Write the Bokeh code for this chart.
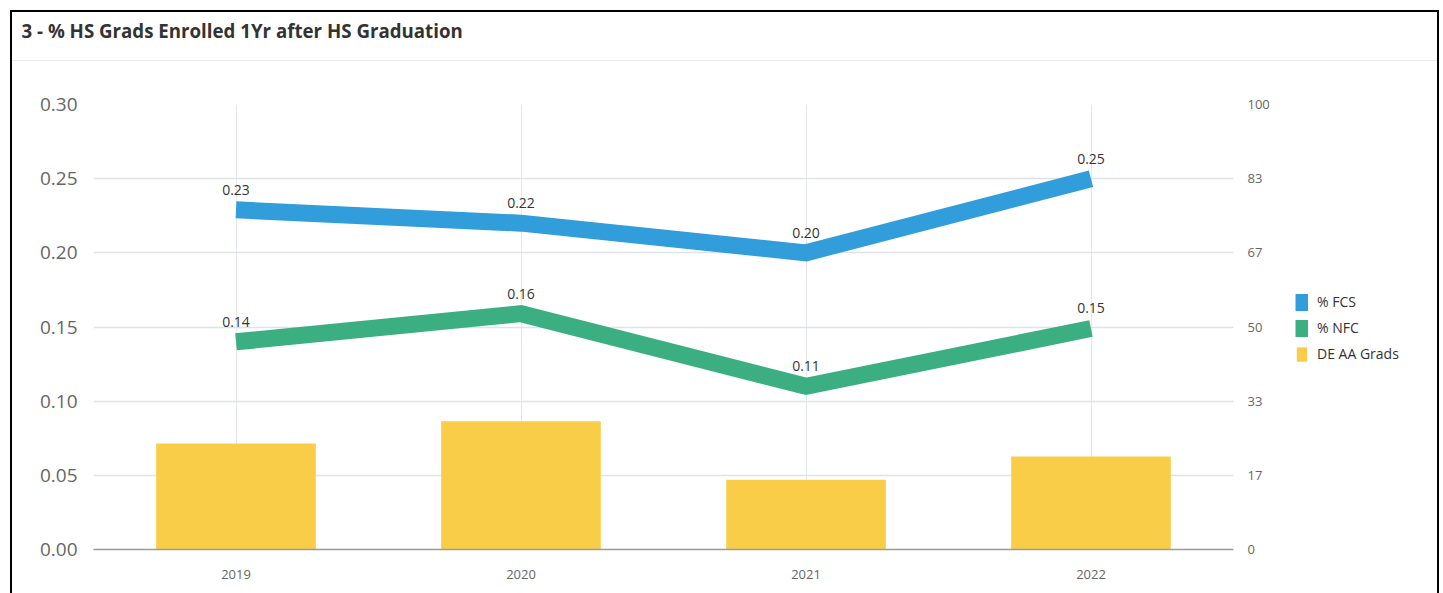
from bokeh.plotting import figure
from bokeh.layouts import row
from bokeh.models import (FactorRange, Range1d, LinearAxis, FixedTicker, Legend, LegendItem,
                          ColumnDataSource, Title, NumeralTickFormatter)
from bokeh.core.properties import value
from bokeh.embed import file_html
from bokeh.resources import INLINE

years = ["2019", "2020", "2021", "2022"]
pct_fcs = [0.229, 0.220, 0.200, 0.250]
pct_nfc = [0.140, 0.159, 0.110, 0.149]
de_aa_grads = [23.8, 28.8, 15.7, 20.9]
left_ticks = [0.0, 0.05, 0.10, 0.15, 0.20, 0.25, 0.30]
right_ticks = [0, 100 / 6, 200 / 6, 50, 400 / 6, 500 / 6, 100]
right_tick_labels = ["0", "17", "33", "50", "67", "83", "100"]
series_names = ["% FCS", "% NFC", "DE AA Grads"]
title_text = "3 - % HS Grads Enrolled 1Yr after HS Graduation"

FONT = "Open Sans"
BLUE = "#319edb"
GREEN = "#3caf82"
YELLOW = "#f9cd48"

W1, W2, H = 1273, 170, 593

bg1 = ("linear-gradient(#000,#000) 10px 10px / 2px 583px no-repeat, "
       "linear-gradient(#000,#000) 10px 10px / 1263px 2px no-repeat, "
       "linear-gradient(#ebebeb,#ebebeb) 12px 60px / 1261px 1px no-repeat, #ffffff")
bg2 = ("linear-gradient(#000,#000) 164px 10px / 2px 583px no-repeat, "
       "linear-gradient(#000,#000) 0px 10px / 166px 2px no-repeat, "
       "linear-gradient(#ebebeb,#ebebeb) 0px 60px / 164px 1px no-repeat, #ffffff")

p = figure(width=W1, height=H, frame_width=1140, frame_height=445,
           x_range=FactorRange(*years), y_range=Range1d(0, 0.30),
           output_backend="svg", toolbar_location=None, title_location=None,
           min_border_left=93, min_border_right=40, min_border_top=104, min_border_bottom=44,
           styles={"background": bg1})
p.extra_y_ranges = {"right": Range1d(0, 100)}
p.outline_line_color = None
p.background_fill_color = "white"
p.border_fill_color = None

# title (extra empty lines lift the text inside its panel)
p.add_layout(Title(text=title_text + "\n\n", text_font=FONT, text_font_size="18.7px",
                   text_font_style="bold", text_color="#333333", align="left",
                   offset=-72, vertical_align="top", standoff=19, text_line_height=1.0),
             "above")

src = ColumnDataSource(dict(x=years, fcs=pct_fcs, nfc=pct_nfc, grads=de_aa_grads,
                            fcs_lbl=[f"{v:.2f}" for v in pct_fcs],
                            nfc_lbl=[f"{v:.2f}" for v in pct_nfc]))
p.vbar(x="x", top="grads", width=0.56, source=src, y_range_name="right",
       fill_color=YELLOW, line_color=None)
p.line(x="x", y="fcs", source=src, line_color=BLUE, line_width=17, line_join="miter")
p.line(x="x", y="nfc", source=src, line_color=GREEN, line_width=17, line_join="miter")

for col in ("fcs", "nfc"):
    p.text(x="x", y=col, text=col + "_lbl", source=src, text_align="center",
           text_baseline="alphabetic", y_offset=-20, text_font=value(FONT),
           text_font_size="14px", text_color="#333333")

# axes
xax = p.xaxis[0]
xax.axis_line_color = "#9a9a9a"
xax.axis_line_width = 1.5
xax.major_tick_line_color = None
xax.minor_tick_line_color = None
xax.major_label_text_font = FONT
xax.major_label_text_font_size = "13px"
xax.major_label_text_color = "#666666"
xax.major_label_standoff = 14

yax = p.yaxis[0]
yax.ticker = FixedTicker(ticks=left_ticks)
yax.formatter = NumeralTickFormatter(format="0.00")
yax.axis_line_color = None
yax.major_tick_line_color = None
yax.minor_tick_line_color = None
yax.major_label_text_font = FONT
yax.major_label_text_font_size = "19px"
yax.major_label_text_color = "#666666"
yax.major_label_standoff = 10

ry = LinearAxis(y_range_name="right", ticker=FixedTicker(ticks=right_ticks),
                major_label_overrides={t: s for t, s in zip(right_ticks, right_tick_labels)},
                axis_line_color=None, major_tick_line_color=None, minor_tick_line_color=None,
                major_label_text_font=FONT, major_label_text_font_size="13px",
                major_label_text_color="#666666", major_label_standoff=8)
p.add_layout(ry, "right")

p.ygrid.ticker = FixedTicker(ticks=left_ticks)
p.ygrid.grid_line_color = "#dfe3e8"
p.ygrid.grid_line_width = 1.5
p.xgrid.grid_line_color = "#e4e7ec"
p.xgrid.grid_line_width = 1

# legend panel: a second figure; its series lie outside its view, only the legend shows
q = figure(width=W2, height=H, x_range=FactorRange(*years), y_range=Range1d(-2, -1),
           output_backend="svg", toolbar_location=None, title_location=None,
           x_axis_location=None, y_axis_location=None, min_border=0,
           styles={"background": bg2})
q.grid.visible = False
q.outline_line_color = None
q.background_fill_color = None
q.border_fill_color = None
g1 = q.line(x="x", y="fcs", source=src, line_color=BLUE, line_width=17)
g2 = q.line(x="x", y="nfc", source=src, line_color=GREEN, line_width=17)
g3 = q.vbar(x="x", top="grads", width=0.001, source=src, fill_color=YELLOW, line_color=None)
legend = Legend(items=[LegendItem(label=series_names[0], renderers=[g1]),
                       LegendItem(label=series_names[1], renderers=[g2]),
                       LegendItem(label=series_names[2], renderers=[g3])],
                location=(22, 186), glyph_width=13, glyph_height=18, spacing=7,
                label_standoff=9, label_text_font=FONT, label_text_font_size="14px",
                label_text_color="#333333", border_line_color=None,
                background_fill_color=None, margin=0, padding=10, label_height=18)
q.add_layout(legend)

layout = row(p, q, spacing=0)
open("out.html", "w").write(file_html(layout, INLINE))
